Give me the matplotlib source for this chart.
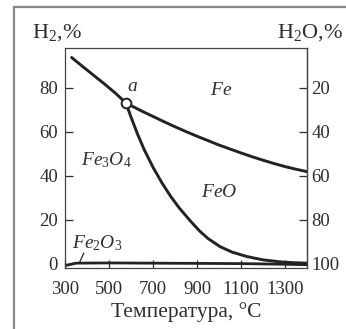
import matplotlib
matplotlib.use("Agg")
import matplotlib.pyplot as plt
from matplotlib.patches import Rectangle

plt.rcParams['font.family'] = ['Liberation Serif', 'DejaVu Serif']
plt.rcParams['mathtext.fontset'] = 'custom'
plt.rcParams['mathtext.rm'] = 'Liberation Serif'
plt.rcParams['mathtext.it'] = 'Liberation Serif:italic'

# граница Fe3O4/Fe и Fe/FeO (верхняя кривая), H2 %
t_upper = [330, 380, 430, 480, 530, 577, 620, 660, 700, 750, 800, 850, 900,
           950, 1000, 1050, 1100, 1150, 1200, 1250, 1300, 1350, 1400]
h2_upper = [93.7, 89.6, 85.6, 81.6, 77.4, 73.0, 70.8, 68.8, 66.9, 64.5, 62.2,
            60.0, 57.9, 55.9, 53.9, 52.1, 50.3, 48.6, 47.0, 45.5, 44.1, 42.9, 41.8]

# граница FeO/Fe3O4
t_feo = [577, 600, 630, 660, 700, 740, 780, 820, 868, 910, 950, 1005,
         1060, 1127, 1200, 1277, 1340, 1400]
h2_feo = [73.0, 66.6, 58.8, 51.8, 43.8, 36.8, 30.6, 25.2, 19.6, 15.0, 11.4, 7.7,
          5.2, 3.2, 1.7, 0.8, 0.4, 0.2]

# граница Fe2O3/Fe3O4
t_fe2o3 = [300, 350, 500, 700, 900, 1100, 1300, 1400]
h2_fe2o3 = [-0.9, 0.2, 0.3, 0.2, 0.1, 0.0, -0.3, -0.5]

point_a = (577, 73.0)

xticks = [300, 500, 700, 900, 1100, 1300]
yticks = [0, 20, 40, 60, 80]
yticks_right = [20, 40, 60, 80, 100]

txt = '#2e2e2e'
line_c = '#222222'

fig = plt.figure(figsize=(3.46, 3.29), dpi=100)
ax = fig.add_axes([65/346, 1-268/329, 242/346, 220/329])

ax.plot(t_upper, h2_upper, color=line_c, lw=2.1, solid_capstyle='round', solid_joinstyle='round')
ax.plot(t_feo, h2_feo, color=line_c, lw=2.1, solid_capstyle='round', solid_joinstyle='round')
ax.plot(t_fe2o3, h2_fe2o3, color=line_c, lw=2.0)
ax.plot([point_a[0]], [point_a[1]], 'o', ms=7, mfc='white', mec=line_c, mew=1.4, zorder=5)

ax.set_xlim(300, 1400)
ax.set_ylim(-2, 98)
ax.set_xticks(xticks)
ax.set_yticks(yticks)
ax.tick_params(axis='both', direction='in', length=6, width=0.9, colors=txt,
               labelsize=13.5)
ax.tick_params(axis='x', pad=9)
ax.tick_params(axis='y', pad=5)
for s in ax.spines.values():
    s.set_color('#444444')
    s.set_linewidth(0.9)

sec = ax.secondary_yaxis('right', functions=(lambda h: 100 - h, lambda w: 100 - w))
sec.set_yticks(yticks_right)
sec.tick_params(direction='in', length=6, width=0.9, colors=txt, labelsize=13.5, pad=3)
sec.spines['right'].set_color('#444444')
sec.spines['right'].set_linewidth(0.9)

ax.set_xlabel('Температура, °C', fontsize=15.5, color=txt, labelpad=3.5)

fig.text(32/346, 1-33/329, r'H$_2$,%', fontsize=16, color=txt, va='center', ha='left')
fig.text(343/346, 1-33/329, r'H$_2$O,%', fontsize=16, color=txt, va='center', ha='right')

ax.text(1010, 78.5, r'$\mathit{Fe}$', fontsize=14, color=txt, ha='center', va='center')
ax.text(605, 80.5, r'$\mathit{a}$', fontsize=14, color=txt, ha='center', va='center')
ax.text(490, 47.0, r'$\mathit{Fe_3O_4}$', fontsize=14, color=txt, ha='center', va='center')
ax.text(1000, 32.5, r'$\mathit{FeO}$', fontsize=14, color=txt, ha='center', va='center')
ax.text(445, 9.5, r'$\mathit{Fe_2O_3}$', fontsize=14, color=txt, ha='center', va='center')
ax.plot([385, 365], [4.7, 0.3], color=line_c, lw=0.9)

fig.add_artist(Rectangle((14/346, -0.1), 1.2, 1.1 - 7/329, transform=fig.transFigure,
                         fill=False, ec='#888888', lw=1.6, clip_on=False))

fig.savefig('out.png', dpi=100, facecolor='white')
